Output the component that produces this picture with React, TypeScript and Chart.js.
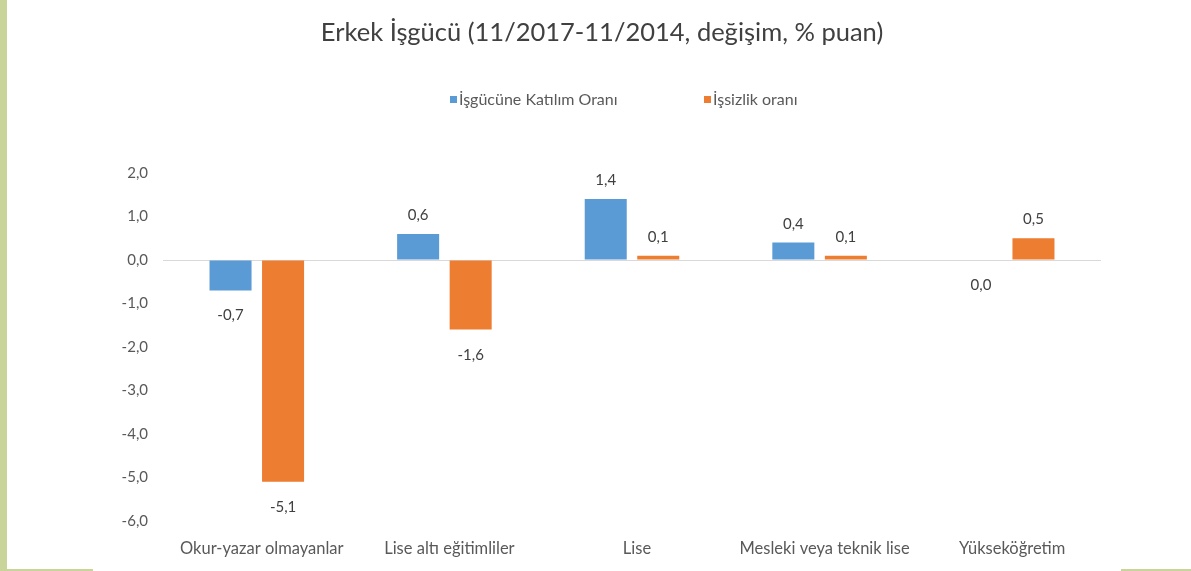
import React, { useEffect, useRef } from "react";
import { Chart, registerables } from "chart.js";

Chart.register(...registerables);

const chartTitle = "Erkek İşgücü (11/2017-11/2014, değişim, % puan)";
const categories = [
  "Okur-yazar olmayanlar",
  "Lise altı eğitimliler",
  "Lise",
  "Mesleki veya teknik lise",
  "Yükseköğretim",
];
const seriesNames = ["İşgücüne Katılım Oranı", "İşsizlik oranı"];
const katilimOrani = [-0.7, 0.6, 1.4, 0.4, 0.0];
const issizlikOrani = [-5.1, -1.6, 0.1, 0.1, 0.5];
const yMin = -6;
const yMax = 2;
const yStep = 1;

const BLUE = "#5b9bd5";
const ORANGE = "#ed7d31";
const FONT = "Lato, 'Open Sans', sans-serif";

const fmt = (v: number) => v.toFixed(1).replace(".", ",");

const valueLabels = {
  id: "valueLabels",
  afterDatasetsDraw(chart: any) {
    const ctx = chart.ctx;
    ctx.save();
    ctx.font = `15px ${FONT}`;
    ctx.fillStyle = "#404040";
    ctx.textAlign = "center";
    ctx.textBaseline = "alphabetic";
    chart.data.datasets.forEach((ds: any, i: number) => {
      const meta = chart.getDatasetMeta(i);
      meta.data.forEach((bar: any, j: number) => {
        const v = ds.data[j] as number;
        const { x, y } = bar.getProps(["x", "y"], true);
        const ty = v > 0 ? y - 14 : y + 30;
        ctx.fillText(fmt(v), x, ty);
      });
    });
    ctx.restore();
  },
};

const titleAndLegend = {
  id: "titleAndLegend",
  afterDraw(chart: any) {
    const ctx = chart.ctx;
    ctx.save();
    ctx.fillStyle = "#404040";
    ctx.font = `25.5px ${FONT}`;
    ctx.textAlign = "center";
    ctx.textBaseline = "middle";
    ctx.fillText(chartTitle, 602, 33);

    const colors = [BLUE, ORANGE];
    const xs = [450, 704];
    ctx.font = `16px ${FONT}`;
    ctx.textAlign = "left";
    seriesNames.forEach((name, i) => {
      ctx.fillStyle = colors[i];
      ctx.fillRect(xs[i], 96, 7, 7);
      ctx.fillStyle = "#595959";
      ctx.fillText(name, xs[i] + 9, 100);
    });
    ctx.restore();
  },
};

export default function App() {
  const canvasRef = useRef<HTMLCanvasElement | null>(null);

  useEffect(() => {
    if (!canvasRef.current) return;
    Chart.defaults.font.family = FONT;
    const chart = new Chart(canvasRef.current, {
      type: "bar",
      data: {
        labels: categories,
        datasets: [
          {
            label: seriesNames[0],
            data: katilimOrani,
            backgroundColor: BLUE,
            barPercentage: 0.8,
            categoryPercentage: 0.56,
          },
          {
            label: seriesNames[1],
            data: issizlikOrani,
            backgroundColor: ORANGE,
            barPercentage: 0.8,
            categoryPercentage: 0.56,
          },
        ],
      },
      options: {
        responsive: false,
        animation: false,
        devicePixelRatio: 1,
        layout: { padding: { top: 173, left: 103, right: 90, bottom: 10 } },
        plugins: {
          legend: { display: false },
          title: { display: false },
          tooltip: { enabled: false },
        },
        scales: {
          x: {
            grid: { display: false, drawTicks: false },
            border: { display: false },
            ticks: {
              color: "#595959",
              font: { size: 16.5, family: FONT },
              padding: 18,
              labelOffset: 5,
              maxRotation: 0,
              autoSkip: false,
            },
            afterFit: (s: any) => {
              s.height = 40;
            },
          },
          y: {
            min: yMin,
            max: yMax,
            grid: {
              drawTicks: false,
              color: (c: any) => (c.tick && c.tick.value === 0 ? "#d9d9d9" : "rgba(0,0,0,0)"),
              lineWidth: 1,
            },
            border: { display: false },
            ticks: {
              stepSize: yStep,
              color: "#595959",
              font: { size: 15, family: FONT },
              padding: 15,
              callback: (v: any) => fmt(Number(v)),
            },
            afterFit: (s: any) => {
              s.width = 60;
            },
          },
        },
      },
      plugins: [valueLabels, titleAndLegend],
    });
    return () => chart.destroy();
  }, []);

  return (
    <div
      style={{
        position: "absolute",
        left: 0,
        top: 0,
        width: 1191,
        height: 571,
        background: "#ffffff",
        overflow: "hidden",
      }}
    >
      <canvas ref={canvasRef} width={1191} height={571} style={{ display: "block" }} />
      <div style={{ position: "absolute", left: 0, top: 0, width: 7, height: 571, background: "#c9d49b" }} />
      <div style={{ position: "absolute", left: 0, top: 569, width: 93, height: 2, background: "#c9d49b" }} />
      <div style={{ position: "absolute", left: 1121, top: 569, width: 70, height: 2, background: "#c9d49b" }} />
    </div>
  );
}
